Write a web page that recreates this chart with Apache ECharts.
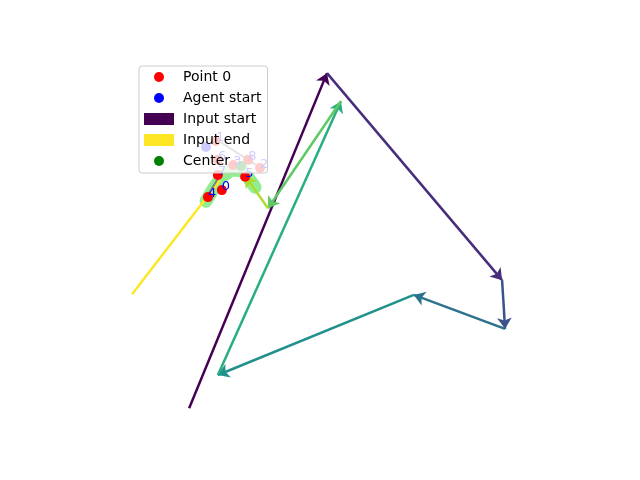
<!DOCTYPE html>
<html>
<head>
<meta charset="utf-8">
<script src="https://cdn.jsdelivr.net/npm/echarts@6/dist/echarts.min.js"></script>
<style>
  html, body { margin: 0; padding: 0; background: #fff; }
  #chart { width: 640px; height: 480px; }
</style>
</head>
<body>
<div id="chart"></div>
<script>
// input path (viridis coloured arrows), start -> end
const inputX = [2.20, 4.98, 8.51, 8.57, 6.73, 2.78, 5.26, 3.79, 3.33];
const inputY = [0.51, 9.59, 3.98, 2.66, 3.58, 1.41, 8.83, 5.93, 6.80];
const inputColors = ['#440154', '#472d7b', '#3b528b', '#2c728e', '#21918c', '#28ae80', '#5ec962', '#addc30'];
// last input piece (yellow)
const endX = [2.82, 1.05];
const endY = [6.69, 3.60];

// numbered points 0..8
const pointsX = [2.86, 2.74, 3.63, 3.09, 2.58, 3.33, 2.78, 2.78, 3.39];
const pointsY = [6.42, 7.75, 7.02, 7.10, 6.23, 6.78, 7.24, 6.83, 7.24];

const agentStart = [2.54, 7.59];
const center = [3.25, 7.07];

// light green trace
const traceX = [2.54, 2.70, 2.86, 3.06, 3.29, 3.43, 3.53];
const traceY = [6.12, 6.48, 6.78, 6.97, 6.94, 6.69, 6.50];

// gray links
const linkA = [[2.74, 7.80], [3.71, 6.96]];
const linkB = [[2.58, 6.29], [2.86, 6.91]];

const chart = echarts.init(document.getElementById('chart'));

function seg(i) {
    return { coords: [[inputX[i], inputY[i]], [inputX[i + 1], inputY[i + 1]]], lineStyle: { color: inputColors[i] } };
}

let midSegs = [];
for (let i = 1; i < inputX.length - 1; i++) midSegs.push(seg(i));

let option = {
    animation: false,
    grid: { left: 80, right: 64, top: 58, bottom: 53 },
    xAxis: { type: 'value', min: 0, max: 10, show: false },
    yAxis: { type: 'value', min: 0, max: 10, show: false },
    legend: {
        orient: 'vertical',
        left: 139, top: 66,
        z: 20,
        padding: [4, 6, 5, 5],
        itemWidth: 28, itemHeight: 10,
        itemGap: 7, itemTextGap: 10,
        backgroundColor: 'rgba(255,255,255,0.8)',
        borderColor: '#cccccc', borderWidth: 1, borderRadius: 3,
        textStyle: { fontFamily: 'DejaVu Sans', fontSize: 14, lineHeight: 14, color: '#000', padding: [0, 0, 0, 5] },
        selectedMode: false,
        data: [
            { name: 'Point 0', icon: 'circle', itemStyle: { color: '#ff0000' } },
            { name: 'Agent start', icon: 'circle', itemStyle: { color: '#0000ff' } },
            { name: 'Input start', icon: 'rect', itemStyle: { color: '#440154' } },
            { name: 'Input end', icon: 'rect', itemStyle: { color: '#fde725' } },
            { name: 'Center', icon: 'circle', itemStyle: { color: '#008000' } }
        ]
    },
    series: [
        {
            name: 'trace', type: 'line', z: 1, silent: true, symbol: 'none',
            data: traceX.map((x, i) => [x, traceY[i]]),
            lineStyle: { color: '#90ee90', width: 13, join: 'round', cap: 'round' }
        },
        {
            name: 'Input start', type: 'lines', coordinateSystem: 'cartesian2d', z: 2,
            symbol: ['none', 'arrow'], symbolSize: 11,
            itemStyle: { color: inputColors[0] },
            lineStyle: { color: inputColors[0], width: 2.5, opacity: 1 },
            data: [seg(0)]
        },
        {
            name: 'path', type: 'lines', coordinateSystem: 'cartesian2d', z: 2,
            symbol: ['none', 'arrow'], symbolSize: 11,
            lineStyle: { width: 2.5, opacity: 1 },
            data: midSegs
        },
        {
            name: 'Input end', type: 'lines', coordinateSystem: 'cartesian2d', z: 2,
            symbol: 'none',
            itemStyle: { color: '#fde725' },
            lineStyle: { color: '#fde725', width: 2.5, opacity: 1 },
            data: [{ coords: [[endX[0], endY[0]], [endX[1], endY[1]]] }]
        },
        {
            name: 'links', type: 'lines', coordinateSystem: 'cartesian2d', z: 3,
            symbol: 'none',
            lineStyle: { color: '#808080', width: 2, opacity: 1 },
            data: [{ coords: linkA }, { coords: linkB }]
        },
        {
            name: 'Point 0', type: 'scatter', z: 3, symbolSize: 10,
            itemStyle: { color: '#ff0000', opacity: 1 },
            data: pointsX.map((x, i) => [x, pointsY[i]]),
            label: {
                show: true, position: [5, 8], align: 'left', verticalAlign: 'bottom',
                color: '#0000ff', fontFamily: 'DejaVu Sans', fontSize: 13,
                formatter: p => String(p.dataIndex)
            }
        },
        {
            name: 'Agent start', type: 'scatter', z: 3, symbolSize: 10,
            itemStyle: { color: '#0000ff', opacity: 1 },
            data: [agentStart]
        },
        {
            name: 'Center', type: 'scatter', z: 3, symbolSize: 10,
            itemStyle: { color: '#008000', opacity: 1 },
            data: [center]
        }
    ]
};
chart.setOption(option);
</script>
</body>
</html>
